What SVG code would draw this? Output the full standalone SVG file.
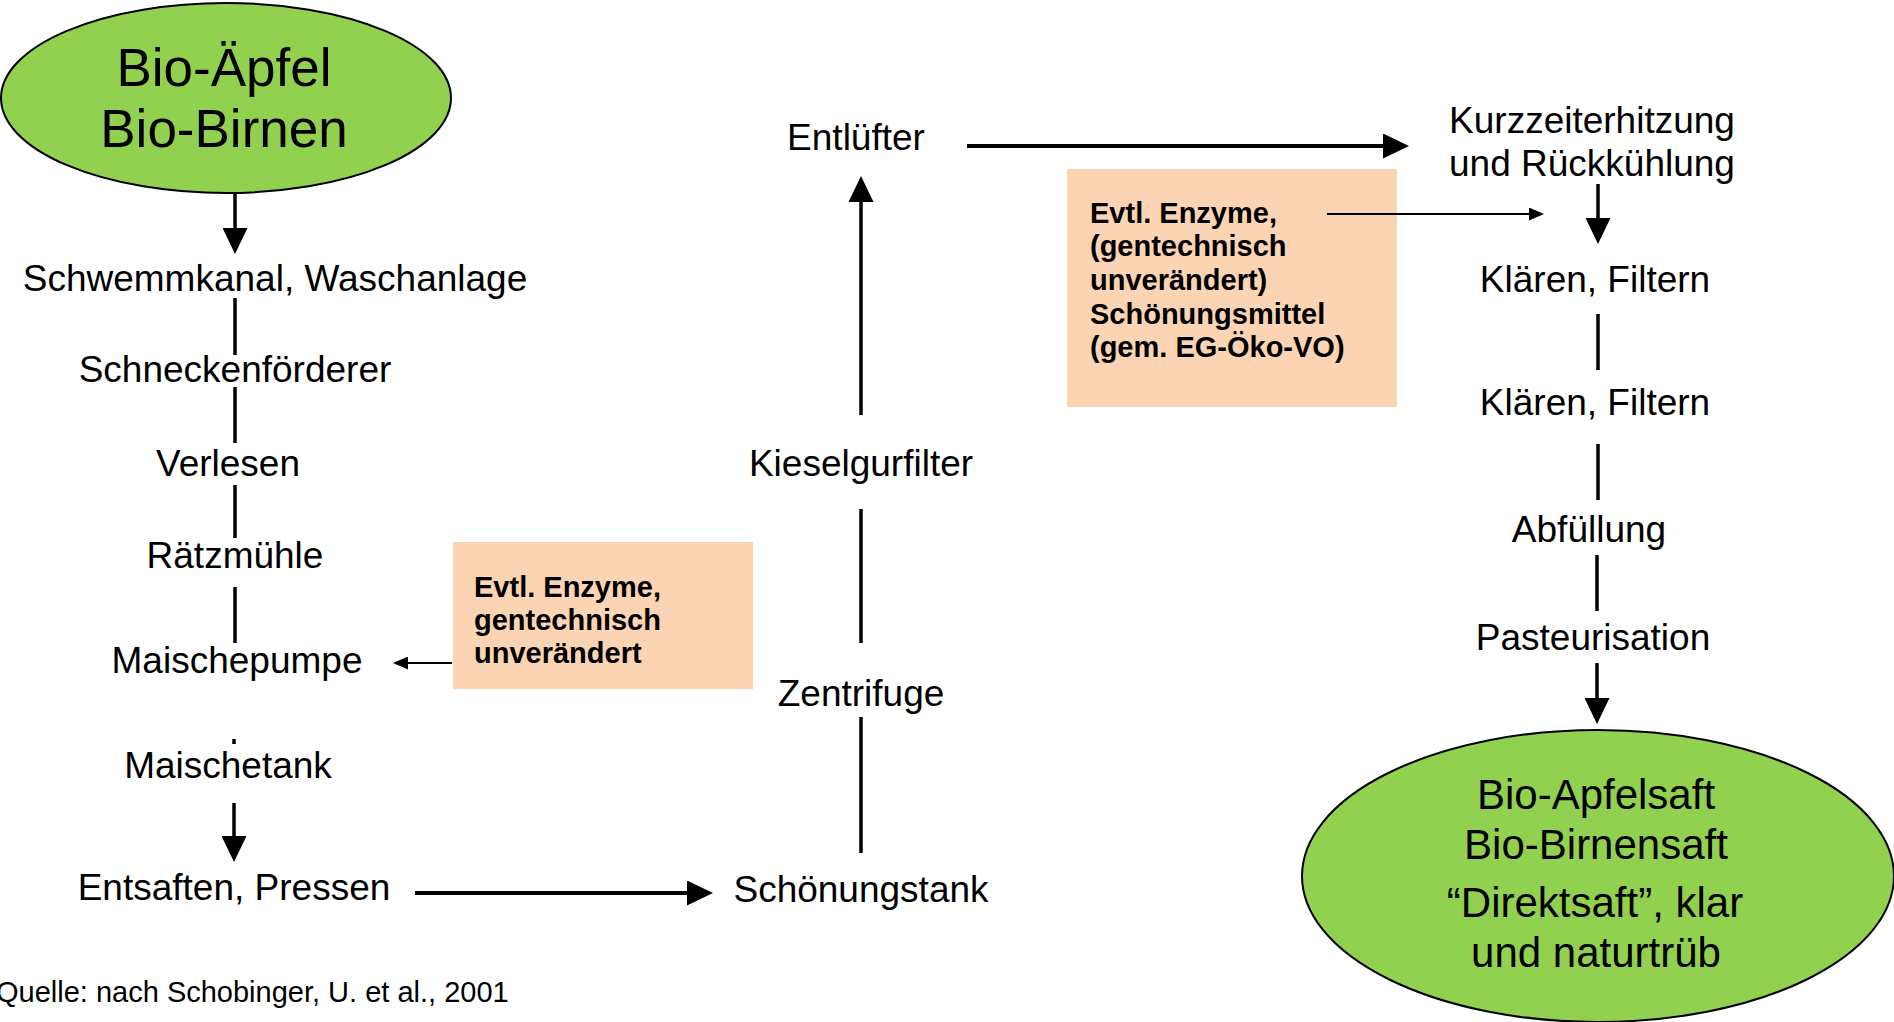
<svg xmlns="http://www.w3.org/2000/svg" width="1894" height="1022" viewBox="0 0 1894 1022">
<style>
text{font-family:"Liberation Sans",Arial,sans-serif;fill:#000}
.n{font-size:37px;text-anchor:middle}
.big{font-size:53px;text-anchor:middle}
.res{font-size:42px;text-anchor:middle}
.note{font-size:29px;font-weight:bold}
.oval{fill:#92D050;stroke:#000;stroke-width:2}
.box{fill:#FBD4B4}
.c{stroke:#000;stroke-width:3.5;fill:none}
.t{stroke:#000;stroke-width:4;fill:none}
.s{stroke:#000;stroke-width:2;fill:none}
</style>
<defs>
<marker id="ah" markerUnits="userSpaceOnUse" viewBox="0 0 26 25" refX="0" refY="12.5" markerWidth="26" markerHeight="25" orient="auto"><path d="M0,0 L26,12.5 L0,25 z" fill="#000"/></marker>
<marker id="as" markerUnits="userSpaceOnUse" viewBox="0 0 15 13" refX="0" refY="6.5" markerWidth="15" markerHeight="13" orient="auto"><path d="M0,0 L15,6.5 L0,13 z" fill="#000"/></marker>
</defs>
<g id="start">
<ellipse class="oval" cx="226" cy="98" rx="225" ry="95"/>
<text class="big" x="224" y="86">Bio-Äpfel</text>
<text class="big" x="224" y="147">Bio-Birnen</text>
</g>
<g id="schwemmkanal"><text class="n" x="275" y="291">Schwemmkanal, Waschanlage</text></g>
<g id="schnecken"><text class="n" x="235" y="382">Schneckenförderer</text></g>
<g id="verlesen"><text class="n" x="228" y="476">Verlesen</text></g>
<g id="raetzmuehle"><text class="n" x="235" y="568">Rätzmühle</text></g>
<g id="maischepumpe"><text class="n" x="237" y="673">Maischepumpe</text></g>
<g id="enzyme1">
<rect class="box" x="453" y="542" width="300" height="147"/>
<text class="note" x="474" y="597">Evtl. Enzyme,</text>
<text class="note" x="474" y="630">gentechnisch</text>
<text class="note" x="474" y="663">unverändert</text>
</g>
<g id="maischetank"><text class="n" x="228" y="778">Maischetank</text></g>
<g id="entsaften"><text class="n" x="234" y="900">Entsaften, Pressen</text></g>
<g id="schoenungstank"><text class="n" x="861" y="902">Schönungstank</text></g>
<g id="zentrifuge"><text class="n" x="861" y="706">Zentrifuge</text></g>
<g id="kieselgur"><text class="n" x="861" y="476">Kieselgurfilter</text></g>
<g id="entluefter"><text class="n" x="856" y="150">Entlüfter</text></g>
<g id="enzyme2">
<rect class="box" x="1067" y="169" width="330" height="238"/>
<text class="note" x="1090" y="223">Evtl. Enzyme,</text>
<text class="note" x="1090" y="256">(gentechnisch</text>
<text class="note" x="1090" y="290">unverändert)</text>
<text class="note" x="1090" y="324">Schönungsmittel</text>
<text class="note" x="1090" y="357">(gem. EG-Öko-VO)</text>
</g>
<g id="kurzzeit">
<text class="n" x="1592" y="133">Kurzzeiterhitzung</text>
<text class="n" x="1592" y="176">und Rückkühlung</text>
</g>
<g id="klaeren1"><text class="n" x="1595" y="292">Klären, Filtern</text></g>
<g id="klaeren2"><text class="n" x="1595" y="415">Klären, Filtern</text></g>
<g id="abfuellung"><text class="n" x="1589" y="542">Abfüllung</text></g>
<g id="pasteurisation"><text class="n" x="1593" y="650">Pasteurisation</text></g>
<g id="result">
<ellipse class="oval" cx="1598" cy="876" rx="296" ry="146"/>
<text class="res" x="1596" y="809">Bio-Apfelsaft</text>
<text class="res" x="1596" y="859">Bio-Birnensaft</text>
<text class="res" x="1595" y="917">“Direktsaft”, klar</text>
<text class="res" x="1596" y="967">und naturtrüb</text>
</g>
<g id="source"><text x="-4" y="1002" style="font-size:29px">Quelle: nach Schobinger, U. et al., 2001</text></g>
<g id="connectors">
<path class="c" d="M235,194 V228" marker-end="url(#ah)"/>
<path class="c" d="M235,298 V355"/>
<path class="c" d="M235,387 V443"/>
<path class="c" d="M235,485 V538"/>
<path class="c" d="M235,587 V643"/>
<path class="s" d="M452,663 H408" marker-end="url(#as)"/>
<path class="c" d="M234,739 V744"/>
<path class="c" d="M234,803 V836" marker-end="url(#ah)"/>
<path class="t" d="M415,893 H687" marker-end="url(#ah)"/>
<path class="c" d="M861,853 V717"/>
<path class="c" d="M861,643 V509"/>
<path class="c" d="M861,415 V202" marker-end="url(#ah)"/>
<path class="t" d="M967,146 H1383" marker-end="url(#ah)"/>
<path class="s" d="M1327,214 H1529" marker-end="url(#as)"/>
<path class="c" d="M1598,184 V218" marker-end="url(#ah)"/>
<path class="c" d="M1598,314 V370"/>
<path class="c" d="M1598,444 V500"/>
<path class="c" d="M1597,555 V611"/>
<path class="c" d="M1597,663 V698" marker-end="url(#ah)"/>
</g>
</svg>
